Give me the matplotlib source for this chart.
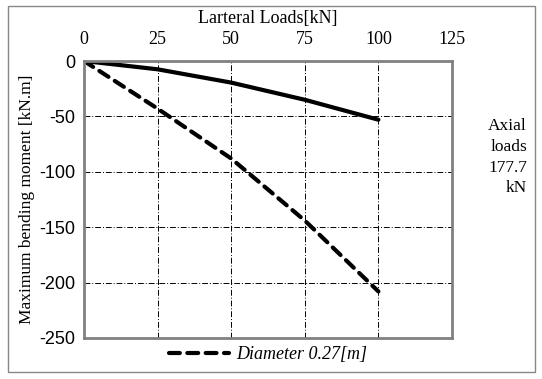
import matplotlib
matplotlib.use("Agg")
import matplotlib.pyplot as plt
from matplotlib.patches import Rectangle

plt.rcParams["axes.unicode_minus"] = False

loads = [0, 25, 50, 75, 100]
moment_solid = [0, -7.5, -19.5, -35, -53]
moment_dashed = [0, -43, -88, -144, -208]
xticks = [0, 25, 50, 75, 100, 125]
yticks = [0, -50, -100, -150, -200, -250]

W, H = 542, 379
fig = plt.figure(figsize=(W / 100, H / 100), dpi=100)
ax = fig.add_axes([84 / W, 1 - 338 / H, (452 - 84) / W, (338 - 61) / H])

serif = "Liberation Serif"
sans = "Liberation Sans"

ax.plot(loads, moment_solid, color="black", lw=3, solid_capstyle="round")
ax.plot(loads, moment_dashed, color="black", lw=3, ls=(0, (2.6, 1.8)),
        dash_capstyle="round", label="Diameter 0.27[m]")

ax.set_xlim(0, 125)
ax.set_ylim(-250, 0)
ax.set_xticks(xticks)
ax.set_yticks(yticks)
ax.xaxis.tick_top()
ax.tick_params(axis="x", length=0, pad=9)
ax.tick_params(axis="y", length=0, pad=6)
for lab in ax.get_xticklabels():
    lab.set_fontfamily(serif)
    lab.set_fontsize(13)
for lab in ax.get_yticklabels():
    lab.set_fontfamily(sans)
    lab.set_fontsize(13)

fig.text(268 / W, 1 - 18 / H, "Larteral Loads[kN]", ha="center", va="center",
         fontfamily=serif, fontsize=13)
ax.set_ylabel("Maximum bending moment [kN.m]", fontfamily=serif, fontsize=12.5, labelpad=3)

ax.grid(True, color="black", lw=0.7, ls=(0, (6, 2, 1, 2)))
ax.set_axisbelow(True)
for s in ax.spines.values():
    s.set_color("#808080")
    s.set_linewidth(2)

leg = ax.legend(loc="center", bbox_to_anchor=(0.5, (338 - 355) / (338 - 61)), frameon=False,
                prop={"family": serif, "style": "italic", "size": 13},
                handlelength=3.3, handletextpad=0.4)

fig.text(527 / W, 1 - 118 / H, "Axial\nloads\n177.7\nkN", ha="right", va="top",
         fontfamily=serif, fontsize=12.5, linespacing=1.4, multialignment="right")

fig.patches.append(Rectangle((8 / W, 1 - 372 / H), (535 - 8) / W, (372 - 6) / H,
                             transform=fig.transFigure, fill=False,
                             edgecolor="#888888", lw=1))

fig.savefig("out.png", dpi=100)
